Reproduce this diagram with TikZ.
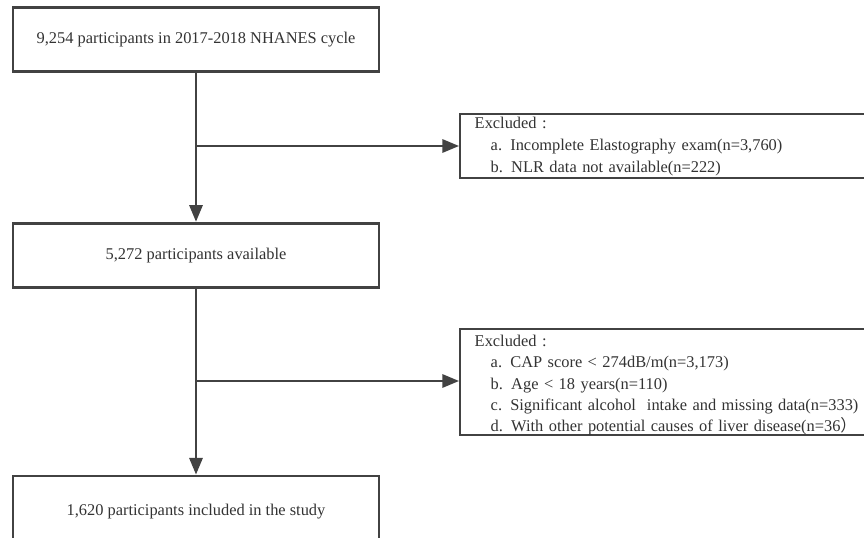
\documentclass[tikz,border=0pt]{standalone}
\usepackage{fontspec}
\setmainfont{Liberation Serif}
\newfontfamily\cjk{Noto Sans CJK SC}
\usetikzlibrary{arrows.meta}
\definecolor{linec}{HTML}{424242}
\definecolor{textc}{HTML}{333333}
\begin{document}
\begin{tikzpicture}[x=0.75pt,y=-0.75pt,
  mainbox/.style={draw=linec,line width=2.2pt,fill=white,minimum width=274.5pt,text=textc,font=\fontsize{12.3}{15}\selectfont},
  exclbox/.style={draw=linec,line width=1.6pt,fill=white,anchor=north west,text width=308pt,text=textc,align=left,inner xsep=11pt,inner ysep=0pt,font=\fontsize{12.3}{16}\selectfont},
  flow/.style={draw=linec,line width=1.6pt,-{Triangle[length=12.5pt,width=10pt]}}]
\useasboundingbox (0,0) rectangle (864,538);
\clip (0,0) rectangle (864,538);
\fill[white] (0,0) rectangle (864,538);
\node[mainbox,minimum height=48.5pt] (b1) at (196,39.5) {9,254 participants in 2017-2018 NHANES cycle};
\node[mainbox,minimum height=48.5pt] (b2) at (196,255.5) {5,272 participants available};
\node[mainbox,minimum height=54pt] (b3) at (196,512) {1,620 participants included in the study};
\node[exclbox,minimum height=48pt,font=\fontsize{12.3}{16.5}\selectfont] (e1) at (459,113) {Excluded :\\
\hspace*{12pt}a. Incomplete Elastography exam(n=3,760)\\
\hspace*{12pt}b. NLR data not available(n=222)};
\node[exclbox,minimum height=78.5pt] (e2) at (459,328) {\rule{0pt}{13pt}Excluded :\\
\hspace*{12pt}a. CAP score < 274dB/m(n=3,173)\\
\hspace*{12pt}b. Age < 18 years(n=110)\\
\hspace*{12pt}c. Significant alcohol\ \ intake and missing data(n=333)\\
\hspace*{12pt}d. With other potential causes of liver disease(n=36{\cjk ）}};
\coordinate (j1) at (196,146);
\coordinate (j2) at (196,381);
\draw[flow] (b1.south) -- (b2.north);
\draw[flow] (b2.south) -- (b3.north);
\draw[flow] (j1) -- (j1 -| e1.west);
\draw[flow] (j2) -- (j2 -| e2.west);
\end{tikzpicture}
\end{document}
